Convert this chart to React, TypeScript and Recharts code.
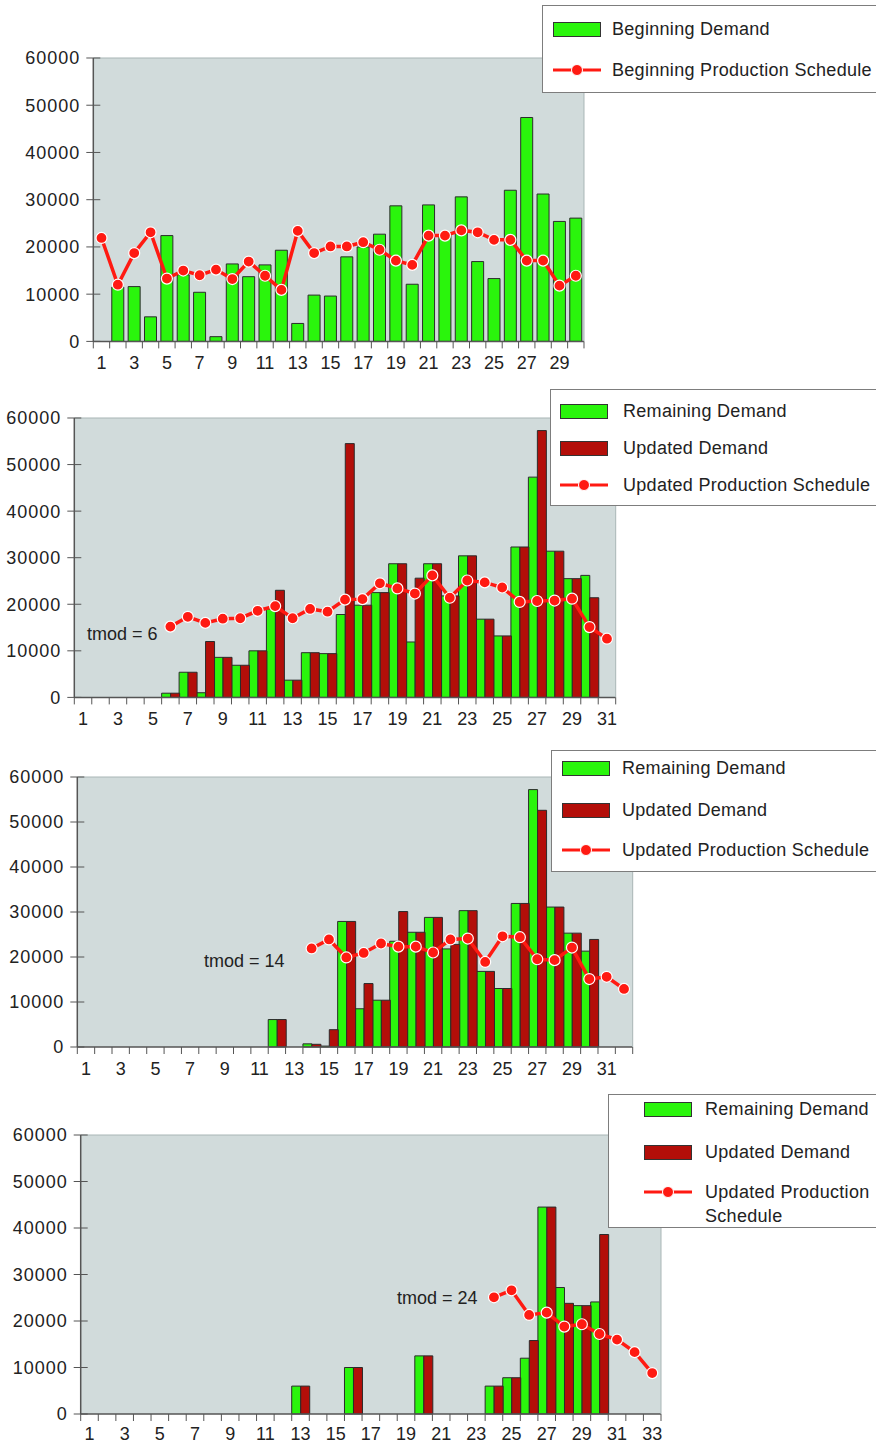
import { ComposedChart, Bar, Line, XAxis, YAxis, CartesianGrid, ReferenceLine } from 'recharts';

type V = number | null;

const yTicks = [0, 10000, 20000, 30000, 40000, 50000, 60000];

// beginning plan, days 1..30
const beginDemand: V[] = [
  null, 11500, 11600, 5200, 22400, 14100, 10400, 1000, 16400, 13700,
  16200, 19300, 3800, 9800, 9600, 17900, 20000, 22700, 28700, 12100,
  28900, 22500, 30600, 16900, 13300, 32000, 47400, 31200, 25400, 26100,
];
const beginSchedule: V[] = [
  21900, 12000, 18700, 23100, 13300, 15000, 14000, 15200, 13200, 16900,
  13900, 10900, 23400, 18700, 20100, 20100, 21000, 19400, 17100, 16200,
  22400, 22400, 23500, 23100, 21500, 21500, 17100, 17100, 11800, 13900,
];

// tmod = 6, days 1..31
const remaining6: V[] = [
  null, null, null, null, null, 900, 5400, 1000, 8600, 6900,
  10000, 19000, 3700, 9600, 9400, 17800, 19800, 22500, 28700, 11900,
  28700, 21800, 30400, 16800, 13200, 32300, 47300, 31400, 25500, 26200,
  null,
];
const updated6: V[] = [
  null, null, null, null, null, 900, 5400, 12000, 8600, 6900,
  10000, 23000, 3700, 9600, 9400, 54500, 19800, 22500, 28700, 25600,
  28700, 21800, 30400, 16800, 13200, 32300, 57300, 31400, 25500, 21400,
  null,
];
const schedule6: V[] = [
  null, null, null, null, null, 15200, 17300, 16000, 16900, 17000,
  18600, 19600, 17000, 19000, 18400, 21000, 21100, 24500, 23400, 22300,
  26200, 21400, 25100, 24700, 23600, 20500, 20700, 20800, 21200, 15100,
  12600,
];

// tmod = 14, days 1..32
const remaining14: V[] = [
  null, null, null, null, null, null, null, null, null, null,
  null, 6100, null, 700, 200, 27900, 8500, 10400, 23500, 25500,
  28800, 21800, 30300, 16800, 13000, 31900, 57200, 31100, 25300, 21300,
  null, null,
];
const updated14: V[] = [
  null, null, null, null, null, null, null, null, null, null,
  null, 6100, null, 600, 3850, 27900, 14100, 10400, 30100, 25500,
  28800, 22800, 30300, 16800, 13000, 31900, 52600, 31100, 25300, 23900,
  null, null,
];
const schedule14: V[] = [
  null, null, null, null, null, null, null, null, null, null,
  null, null, null, 21900, 23900, 19900, 20900, 23000, 22300, 22300,
  21000, 23900, 24100, 18900, 24600, 24400, 19500, 19300, 22100, 15100,
  15600, 12900,
];

// tmod = 24, days 1..33
const remaining24: V[] = [
  null, null, null, null, null, null, null, null, null, null,
  null, null, 6000, null, null, 10000, null, null, null, 12500,
  null, null, null, 6000, 7800, 12000, 44500, 27200, 23300, 24100,
  null, null, null,
];
const updated24: V[] = [
  null, null, null, null, null, null, null, null, null, null,
  null, null, 6000, null, null, 10000, null, null, null, 12500,
  null, null, null, 6000, 7800, 15800, 44500, 23800, 23300, 38600,
  null, null, null,
];
const schedule24: V[] = [
  null, null, null, null, null, null, null, null, null, null,
  null, null, null, null, null, null, null, null, null, null,
  null, null, null, 25100, 26600, 21300, 21800, 18800, 19300, 17200,
  16000, 13300, 8800,
];

const GREEN = '#2af50c';
const DARK_RED = '#b30e09';
const LINE_RED = '#ff1a12';
const AXIS = '#555';
const BG = '#d1dbdb';
const BORDER = '#a9b6b6';
const FONT = '"Liberation Sans", Arial, Helvetica, sans-serif';

function buildRows(remaining: V[], schedule: V[], updated?: V[]) {
  return remaining.map((r, i) => ({
    day: String(i + 1),
    remaining: r,
    updated: updated ? updated[i] : null,
    schedule: schedule[i],
  }));
}

type Row = ReturnType<typeof buildRows>[number];

// x ticks sit on the category edges, labels on odd days
function makeXTick(n: number, band: number, gap: number) {
  return function XTick(props: any) {
    const { x, y, payload } = props;
    const day = Number(payload.value);
    const axisY = y - gap;
    return (
      <g>
        <line x1={x - band / 2} y1={axisY} x2={x - band / 2} y2={axisY + 7} stroke={AXIS} />
        {day === n && <line x1={x + band / 2} y1={axisY} x2={x + band / 2} y2={axisY + 7} stroke={AXIS} />}
        {day % 2 === 1 && (
          <text x={x} y={y} dy="0.71em" textAnchor="middle" fontSize={18} fill="#222">{payload.value}</text>
        )}
      </g>
    );
  };
}

// y ticks cross the axis line
function YTick(props: any) {
  const { x, y, payload } = props;
  const axisX = x + 13;
  return (
    <g>
      <line x1={axisX - 7} y1={y} x2={axisX + 7} y2={y} stroke={AXIS} />
      <text x={x} y={y} dy="0.355em" textAnchor="end" fontSize={18} fill="#222" letterSpacing={1}>
        {payload.value}
      </text>
    </g>
  );
}

function DemandPanel({ data, left, top, right, bottom, twoBars, labelGap = 15, below = 40 }: {
  data: Row[]; left: number; top: number; right: number; bottom: number; twoBars: boolean;
  labelGap?: number; below?: number;
}) {
  const n = data.length;
  const band = (right - left) / n;
  return (
    <div style={{ position: 'absolute', left: 0, top: top - 40 }}>
      <ComposedChart
        width={876}
        height={bottom - top + 40 + below}
        data={data}
        margin={{ top: 40, right: 876 - right - 1, bottom: 0, left: 0 }}
        barCategoryGap={twoBars ? 0 : '13%'}
        barGap={0}
      >
        <CartesianGrid fill={BG} fillOpacity={1} horizontal={false} vertical={false} stroke="none" />
        <XAxis
          dataKey="day" interval={0} height={below} tickSize={7} tickMargin={labelGap - 7} tickLine={false}
          axisLine={{ stroke: AXIS, strokeWidth: 1.5 }}
          tick={makeXTick(n, band, labelGap)}
        />
        <YAxis
          width={left} domain={[0, 60000]} ticks={yTicks} interval={0} tickSize={7} tickMargin={6}
          axisLine={{ stroke: AXIS, strokeWidth: 1.5 }} tickLine={false}
          tick={YTick}
        />
        <YAxis
          yAxisId="border" orientation="right" width={1} domain={[0, 60000]}
          tick={false} tickLine={false} axisLine={{ stroke: BORDER }}
        />
        <ReferenceLine y={60000} stroke={BORDER} ifOverflow="visible" />
        <Bar dataKey="remaining" fill={GREEN} stroke="#2b2b2b" strokeWidth={1} isAnimationActive={false} />
        {twoBars && (
          <Bar dataKey="updated" fill={DARK_RED} stroke="#2b2b2b" strokeWidth={1} isAnimationActive={false} />
        )}
        <Line
          dataKey="schedule" type="linear" stroke={LINE_RED} strokeWidth={3.5}
          dot={{ r: 5.5, fill: LINE_RED, stroke: '#fff', strokeWidth: 1.2 }}
          activeDot={false} connectNulls={false} isAnimationActive={false}
        />
      </ComposedChart>
    </div>
  );
}

type LegendRow = { kind: 'green' | 'red' | 'line'; lines: string[]; cy: number };

function LegendBox({ left, top, height, swatchLeft, textLeft, rows }: {
  left: number; top: number; height: number; swatchLeft: number; textLeft: number; rows: LegendRow[];
}) {
  return (
    <div style={{
      position: 'absolute', left, top, width: 876 - left + 6, height, boxSizing: 'border-box',
      border: '1px solid #7d7d7d', background: '#fff',
    }}>
      {rows.map((r) => (
        <div key={r.lines[0]}>
          {r.kind === 'line' ? (
            <svg width={48} height={14} style={{ position: 'absolute', left: swatchLeft - left, top: r.cy - top - 8 }}>
              <line x1={0} y1={7} x2={48} y2={7} stroke={LINE_RED} strokeWidth={3} />
              <circle cx={24} cy={7} r={5.5} fill={LINE_RED} stroke="#fff" strokeWidth={1} />
            </svg>
          ) : (
            <div style={{
              position: 'absolute', left: swatchLeft - left, top: r.cy - top - 8, width: 48, height: 15,
              boxSizing: 'border-box', border: '1px solid #333',
              background: r.kind === 'green' ? GREEN : DARK_RED,
            }} />
          )}
          <div style={{
            position: 'absolute', left: textLeft - left - 1, top: r.cy - top - 13,
            fontSize: 18, lineHeight: '24px', color: '#222', whiteSpace: 'nowrap', letterSpacing: 0.3,
          }}>
            {r.lines.map((t) => <div key={t}>{t}</div>)}
          </div>
        </div>
      ))}
    </div>
  );
}

function Note({ text, left, cy }: { text: string; left: number; cy: number }) {
  return (
    <div style={{
      position: 'absolute', left, top: cy - 12, fontSize: 18, lineHeight: '24px',
      color: '#222', whiteSpace: 'nowrap',
    }}>{text}</div>
  );
}

export default function App() {
  const data1 = buildRows(beginDemand, beginSchedule);
  const data2 = buildRows(remaining6, schedule6, updated6);
  const data3 = buildRows(remaining14, schedule14, updated14);
  const data4 = buildRows(remaining24, schedule24, updated24);

  return (
    <div style={{
      position: 'absolute', left: 0, top: 0, width: 876, height: 1445, overflow: 'hidden',
      background: '#fff', fontFamily: FONT,
    }}>
      <DemandPanel data={data1} left={93.3} top={58.3} right={584} bottom={341.7} twoBars={false} />
      <DemandPanel data={data2} left={74.3} top={418.3} right={615.7} bottom={697.7} twoBars />
      <DemandPanel data={data3} left={77.3} top={776.7} right={632.7} bottom={1046.7} twoBars />
      <DemandPanel data={data4} left={80.7} top={1135} right={661} bottom={1414} twoBars labelGap={13} below={31} />

      <Note text="tmod = 6" left={87} cy={634} />
      <Note text="tmod = 14" left={204} cy={961} />
      <Note text="tmod = 24" left={397} cy={1298} />

      <LegendBox left={542} top={5} height={88} swatchLeft={552} textLeft={612} rows={[
        { kind: 'green', lines: ['Beginning Demand'], cy: 29 },
        { kind: 'line', lines: ['Beginning Production Schedule'], cy: 70 },
      ]} />
      <LegendBox left={550} top={389} height={117} swatchLeft={559} textLeft={623} rows={[
        { kind: 'green', lines: ['Remaining Demand'], cy: 411 },
        { kind: 'red', lines: ['Updated Demand'], cy: 448 },
        { kind: 'line', lines: ['Updated Production Schedule'], cy: 485 },
      ]} />
      <LegendBox left={551} top={750} height={122} swatchLeft={561} textLeft={622} rows={[
        { kind: 'green', lines: ['Remaining Demand'], cy: 768 },
        { kind: 'red', lines: ['Updated Demand'], cy: 810 },
        { kind: 'line', lines: ['Updated Production Schedule'], cy: 850 },
      ]} />
      <LegendBox left={608} top={1094} height={134} swatchLeft={643} textLeft={705} rows={[
        { kind: 'green', lines: ['Remaining Demand'], cy: 1109 },
        { kind: 'red', lines: ['Updated Demand'], cy: 1152 },
        { kind: 'line', lines: ['Updated Production', 'Schedule'], cy: 1192 },
      ]} />
    </div>
  );
}
